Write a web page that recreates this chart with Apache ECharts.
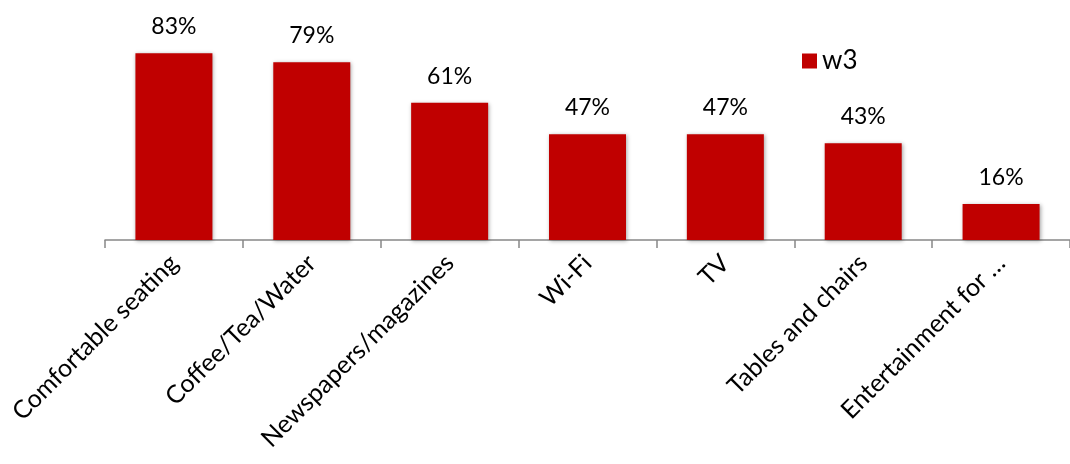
<!DOCTYPE html>
<html><head><meta charset="utf-8">
<script src="https://cdn.jsdelivr.net/npm/echarts@6/dist/echarts.min.js"></script>
<style>html,body{margin:0;padding:0;background:#fff}#c{width:1070px;height:464px}</style>
</head><body><div id="c"></div>
<script>
const categories = ["Comfortable seating","Coffee/Tea/Water","Newspapers/magazines","Wi-Fi","TV","Tables and chairs","Entertainment for …"];
const w3 = [83, 79, 61, 47, 47, 43, 16];
const FONT = "Lato";
const chart = echarts.init(document.getElementById('c'));
chart.setOption({
  animation: false,
  textStyle: {fontFamily: FONT},
  legend: {
    data: ['w3'], left: 797, top: 43, icon: 'rect', itemWidth: 15, itemHeight: 15, itemGap: 8,
    textStyle: {fontSize: 26, color: '#000', fontFamily: FONT}
  },
  grid: {left: 105, right: -9, top: 15, bottom: 224, containLabel: false},
  xAxis: {
    type: 'category', data: categories,
    axisLine: {lineStyle: {color: '#888', width: 1.5}},
    axisTick: {show: true, length: 8, lineStyle: {color: '#888', width: 1.5}},
    axisLabel: {rotate: 45, fontSize: 25, color: '#000', margin: 19, interval: 0, fontFamily: FONT}
  },
  yAxis: {type: 'value', min: 0, max: 100, show: false, splitLine: {show: false}},
  series: [{
    name: 'w3', type: 'bar', data: w3, barWidth: 77,
    itemStyle: {color: '#C00000', shadowBlur: 4, shadowColor: 'rgba(0,0,0,0.35)', shadowOffsetX: 1, shadowOffsetY: 1},
    label: {show: true, position: 'top', distance: 15, fontSize: 23, color: '#000', formatter: '{c}%', fontFamily: FONT}
  }]
});
</script></body></html>
